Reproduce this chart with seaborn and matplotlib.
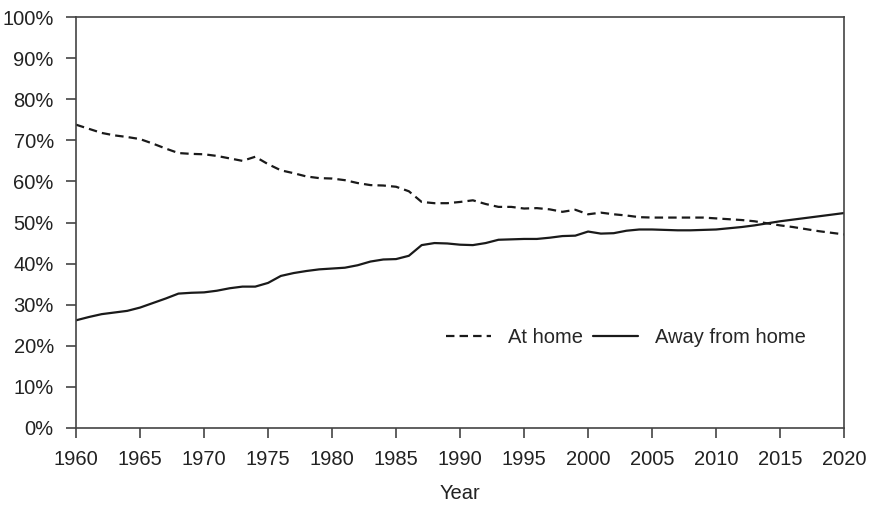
import matplotlib.pyplot as plt
import matplotlib.ticker as mticker
import pandas as pd
import seaborn as sns

years = list(range(1960, 2021))

at_home = [
    73.8, 72.8, 71.8, 71.2, 70.8, 70.3, 69.2, 68.0, 66.9, 66.7,
    66.6, 66.2, 65.6, 65.0, 66.0, 64.2, 62.7, 62.0, 61.2, 60.8,
    60.7, 60.3, 59.6, 59.1, 59.0, 58.7, 57.6, 55.0, 54.7, 54.7,
    55.0, 55.4, 54.5, 53.8, 53.8, 53.4, 53.5, 53.2, 52.6, 53.1,
    52.0, 52.4, 52.0, 51.7, 51.3, 51.2, 51.2, 51.2, 51.2, 51.2,
    51.0, 50.8, 50.6, 50.3, 49.8, 49.3, 48.9, 48.4, 47.9, 47.5,
    47.1,
]

away_from_home = [
    26.2, 27.0, 27.7, 28.1, 28.5, 29.3, 30.4, 31.5, 32.7, 32.9,
    33.0, 33.4, 34.0, 34.4, 34.4, 35.3, 37.0, 37.7, 38.2, 38.6,
    38.8, 39.0, 39.6, 40.5, 41.0, 41.1, 41.9, 44.5, 45.0, 44.9,
    44.6, 44.5, 45.0, 45.8, 45.9, 46.0, 46.0, 46.3, 46.7, 46.8,
    47.8, 47.3, 47.4, 48.0, 48.3, 48.3, 48.2, 48.1, 48.1, 48.2,
    48.3, 48.6, 48.9, 49.3, 49.8, 50.3, 50.7, 51.1, 51.5, 51.9,
    52.3,
]

df = pd.DataFrame({"Year": years, "At home": at_home, "Away from home": away_from_home})

sns.set_theme(style="ticks")
plt.rcParams["font.family"] = ["Liberation Sans", "DejaVu Sans"]
plt.rcParams["axes.edgecolor"] = "#444444"
plt.rcParams["xtick.color"] = "#444444"
plt.rcParams["ytick.color"] = "#444444"
plt.rcParams["xtick.labelcolor"] = "#222222"
plt.rcParams["ytick.labelcolor"] = "#222222"

fig, ax = plt.subplots(figsize=(8.72, 5.08), dpi=100)
fig.subplots_adjust(left=0.0872, right=0.968, bottom=0.1575, top=0.9665)

sns.lineplot(data=df, x="Year", y="At home", ax=ax, color="#1a1a1a",
             linewidth=1.6, linestyle=(0, (3.8, 2.3)), label="At home")
sns.lineplot(data=df, x="Year", y="Away from home", ax=ax, color="#1a1a1a",
             linewidth=1.6, label="Away from home")

ax.set_xlim(1960, 2020)
ax.set_ylim(0, 100)
ax.set_xticks(range(1960, 2021, 5))
ax.set_yticks(range(0, 101, 10))
ax.yaxis.set_major_formatter(mticker.PercentFormatter(decimals=0))
ax.tick_params(axis="both", labelsize=14.5, length=7, width=1.2, pad=9)
ax.set_xlabel("Year", fontsize=14.5, color="#222222", labelpad=11)
ax.set_ylabel("")
for s in ax.spines.values():
    s.set_linewidth(1.2)

ax.legend(loc="center", bbox_to_anchor=(0.716, 0.219), ncol=2, frameon=False,
          fontsize=14.5, handlelength=2.25, handletextpad=0.85, columnspacing=0.5)

plt.savefig("out.png", dpi=100)
plt.close()
